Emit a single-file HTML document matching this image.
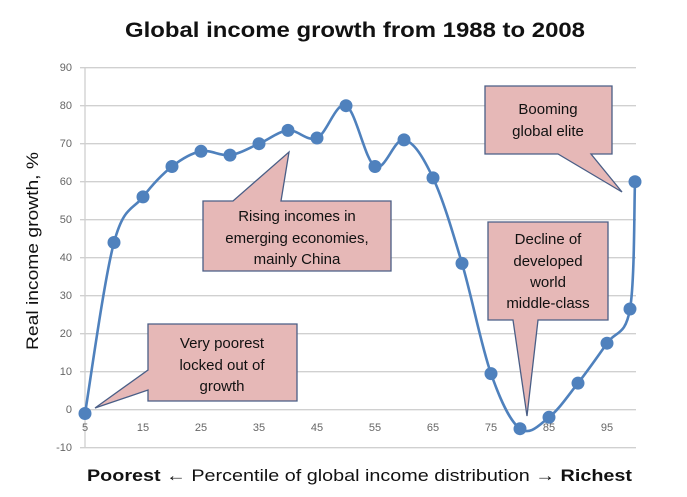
<!DOCTYPE html>
<html><head><meta charset="utf-8"><style>
html,body{margin:0;padding:0;background:#fff;}
svg{display:block;font-family:"Liberation Sans",sans-serif;}
</style></head><body>
<svg width="687" height="497" viewBox="0 0 687 497" xmlns="http://www.w3.org/2000/svg">
<rect width="687" height="497" fill="#fff"/>
<text x="355" y="37" text-anchor="middle" font-size="21" font-weight="bold" textLength="460" lengthAdjust="spacingAndGlyphs" fill="#111">Global income growth from 1988 to 2008</text>
<g stroke="#d0d0d0" stroke-width="1.3">
<line x1="80" x2="636" y1="67.7" y2="67.7"/><line x1="80" x2="636" y1="105.7" y2="105.7"/>
<line x1="80" x2="636" y1="143.7" y2="143.7"/><line x1="80" x2="636" y1="181.7" y2="181.7"/>
<line x1="80" x2="636" y1="219.7" y2="219.7"/><line x1="80" x2="636" y1="257.7" y2="257.7"/>
<line x1="80" x2="636" y1="295.7" y2="295.7"/><line x1="80" x2="636" y1="333.7" y2="333.7"/>
<line x1="80" x2="636" y1="371.7" y2="371.7"/><line x1="80" x2="636" y1="409.7" y2="409.7"/>
<line x1="80" x2="636" y1="447.7" y2="447.7"/>
<line x1="85" x2="85" y1="67" y2="448"/>
</g>
<g font-size="11" fill="#666" text-anchor="end">
<text x="72" y="71">90</text><text x="72" y="109">80</text><text x="72" y="147">70</text>
<text x="72" y="185">60</text><text x="72" y="223">50</text><text x="72" y="261">40</text>
<text x="72" y="299">30</text><text x="72" y="337">20</text><text x="72" y="375">10</text>
<text x="72" y="413">0</text><text x="72" y="451">-10</text>
</g>
<g font-size="11" fill="#666" text-anchor="middle">
<text x="85" y="431">5</text><text x="143" y="431">15</text><text x="201" y="431">25</text>
<text x="259" y="431">35</text><text x="317" y="431">45</text><text x="375" y="431">55</text>
<text x="433" y="431">65</text><text x="491" y="431">75</text><text x="549" y="431">85</text>
<text x="607" y="431">95</text>
</g>
<text transform="translate(38,251) rotate(-90)" text-anchor="middle" font-size="17" textLength="198" lengthAdjust="spacingAndGlyphs" fill="#111">Real income growth, %</text>
<text x="87" y="481" font-size="17" fill="#111" textLength="545" lengthAdjust="spacingAndGlyphs"><tspan font-weight="bold">Poorest</tspan> ← Percentile of global income distribution → <tspan font-weight="bold">Richest</tspan></text>
<path fill="none" stroke="#4f81bd" stroke-width="2.6" stroke-linejoin="round" d="M85,413.5 C89.9,384.4 104.1,279.3 114,242.5 C123.9,205.7 133.1,209.8 143,196.9 C152.9,184 162.1,174.3 172,166.5 C181.9,158.7 191.1,153.2 201,151.3 C210.9,149.4 220.1,156.4 230,155.1 C239.9,153.8 249.1,147.9 259,143.7 C268.9,139.5 278.1,131.4 288,130.4 C297.9,129.4 307.1,142.2 317,138 C326.9,133.8 336.1,100.9 346,105.7 C355.9,110.5 365.1,160.7 375,166.5 C384.9,172.3 394.1,138 404,139.9 C413.9,141.8 423.1,156.9 433,177.9 C442.9,198.9 452.1,230.1 462,263.4 C471.9,296.7 481.1,345.5 491,373.6 C500.9,401.7 510.1,421.3 520,428.7 C529.9,436.1 539.1,425.1 549,417.3 C558.9,409.5 568.1,395.7 578,383.1 C587.9,370.5 598.2,355.8 607,343.2 C615.8,330.6 625.2,336.5 630,309 C634.8,281.5 634.1,203.3 635,181.7"/>
<g fill="#4f81bd">
<circle cx="85" cy="413.5" r="6.5"/><circle cx="114" cy="242.5" r="6.5"/><circle cx="143" cy="196.9" r="6.5"/>
<circle cx="172" cy="166.5" r="6.5"/><circle cx="201" cy="151.3" r="6.5"/><circle cx="230" cy="155.1" r="6.5"/>
<circle cx="259" cy="143.7" r="6.5"/><circle cx="288" cy="130.4" r="6.5"/><circle cx="317" cy="138" r="6.5"/>
<circle cx="346" cy="105.7" r="6.5"/><circle cx="375" cy="166.5" r="6.5"/><circle cx="404" cy="139.9" r="6.5"/>
<circle cx="433" cy="177.9" r="6.5"/><circle cx="462" cy="263.4" r="6.5"/><circle cx="491" cy="373.6" r="6.5"/>
<circle cx="520" cy="428.7" r="6.5"/><circle cx="549" cy="417.3" r="6.5"/><circle cx="578" cy="383.1" r="6.5"/>
<circle cx="607" cy="343.2" r="6.5"/><circle cx="630" cy="309" r="6.5"/><circle cx="635" cy="181.7" r="6.5"/>
</g>
<g fill="#e6b8b7" stroke="#4a5e86" stroke-width="1.3">
<path d="M148,324 L297,324 L297,401 L148,401 L148,390 L95,408 L148,370 Z"/>
<path d="M203,201 L233,201 L289,152 L281,201 L391,201 L391,271 L203,271 Z"/>
<path d="M485,86 L612,86 L612,154 L591,154 L622,192 L558,154 L485,154 Z"/>
<path d="M488,222 L608,222 L608,320 L538,320 L527,416 L513,320 L488,320 Z"/>
</g>
<g font-size="15" fill="#111" text-anchor="middle">
<text x="222" y="348">Very poorest</text><text x="222" y="370">locked out of</text><text x="222" y="391">growth</text>
<text x="297" y="221">Rising incomes in</text><text x="297" y="243">emerging economies,</text><text x="297" y="264">mainly China</text>
<text x="548" y="114">Booming</text><text x="548" y="136">global elite</text>
<text x="548" y="244">Decline of</text><text x="548" y="266">developed</text><text x="548" y="287">world</text><text x="548" y="308">middle-class</text>
</g>
</svg>
</body></html>
